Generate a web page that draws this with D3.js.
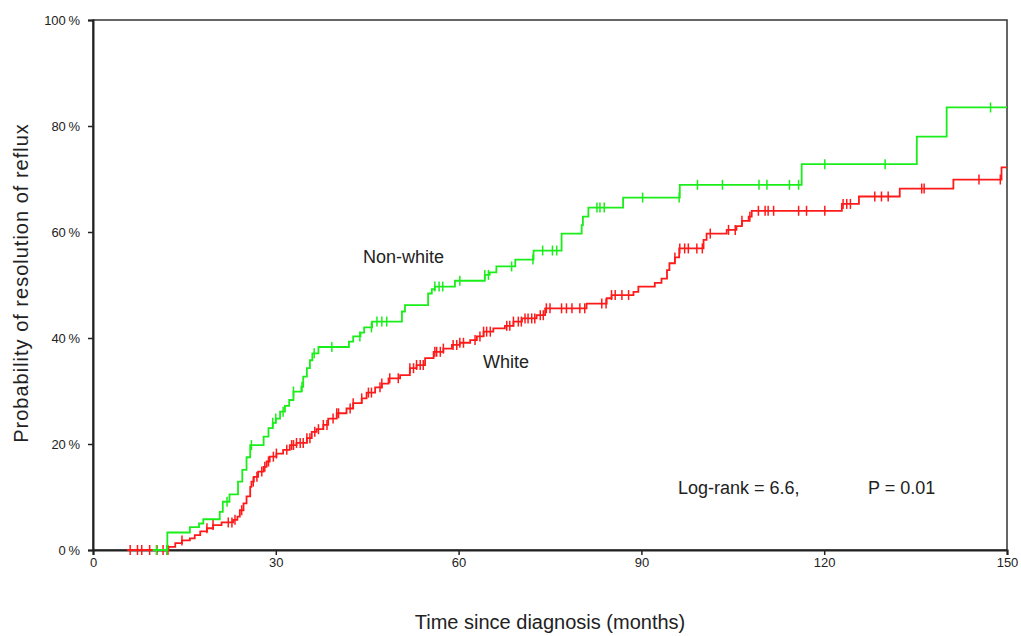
<!DOCTYPE html>
<html>
<head>
<meta charset="utf-8">
<script src="https://cdn.jsdelivr.net/npm/d3@7"></script>
<style>
  body { margin: 0; background: #fff; }
  svg { display: block; }
  text { font-family: Arial, "Liberation Sans", sans-serif; fill: #222; }
  .tick text { font-family: Arial, "Liberation Sans", sans-serif; font-size: 13px; }
</style>
</head>
<body>
<svg id="chart"></svg>
<script>
// step points [month, percent]
const nonWhiteSteps = [
  [9.8,0],[12.2,3.3],[15.9,4.3],[17.4,5.0],[18.1,5.8],[20.8,7.2],[21.3,9.1],[22.4,10.5],[23.8,12.9],
  [24.5,15.1],[25.2,17.5],[25.8,19.8],[28.0,21.4],[28.8,23.0],[29.5,24.0],[30.0,24.8],[30.7,26.1],
  [31.5,27.2],[32.2,28.3],[32.9,29.9],[34.2,30.8],[34.5,32.7],[35.1,34.3],[35.6,35.8],[36.0,37.1],
  [37.0,38.3],[42.0,39.3],[42.7,40.3],[43.9,41.0],[44.5,42.0],[45.8,43.1],[50.7,45.0],[51.2,46.2],
  [55.0,48.4],[55.6,49.2],[56.1,49.7],[59.4,50.8],[64.3,51.9],[65.1,52.4],[66.2,53.5],[69.3,54.8],
  [72.3,56.5],[76.9,59.7],[80.2,61.3],[80.4,62.9],[81.3,64.6],[87.0,66.5],[96.3,68.9],[116.3,72.8],
  [135.2,78.0],[140.1,83.5],[150,83.5]
];
const whiteSteps = [
  [5.6,0],[12.4,0.6],[13.5,1.3],[14.6,1.8],[15.9,2.2],[16.7,2.8],[17.6,3.5],[18.7,4.1],[19.7,4.7],
  [21.1,5.2],[23.0,5.7],[23.7,6.3],[24.1,7.5],[24.7,8.8],[25.2,10.1],[25.8,11.9],[26.0,12.9],
  [26.4,13.8],[27.1,14.8],[28.0,15.7],[28.5,16.7],[29.0,17.6],[30.1,18.2],[31.2,18.9],[32.3,19.8],
  [33.4,20.2],[35.1,21.1],[35.9,22.3],[36.7,22.8],[37.8,23.6],[38.6,24.8],[40.0,25.8],[41.6,26.7],
  [42.7,27.7],[44.1,28.6],[44.9,29.7],[46.3,30.7],[47.4,31.4],[48.5,32.4],[50.4,33.0],[52.0,34.3],
  [53.1,34.9],[54.5,36.2],[55.9,37.4],[57.5,38.0],[58.9,38.7],[60.2,39.1],[61.9,39.6],[63.0,40.3],
  [64.1,41.2],[65.7,41.8],[67.6,42.3],[69.0,43.1],[70.4,43.7],[72.8,44.3],[74.2,45.6],[81.0,46.5],
  [84.3,47.5],[85.1,48.1],[88.7,48.7],[89.5,49.7],[92.2,50.4],[93.3,51.2],[94.2,52.8],[94.6,54.1],
  [95.5,55.2],[96.2,56.9],[100.2,58.5],[100.7,59.7],[104.0,60.4],[105.6,61.1],[106.5,62.1],
  [107.6,62.9],[108.1,64.0],[122.9,65.3],[125.7,66.7],[132.4,68.2],[141.2,69.9],[149.1,72.2],[150,72.2]
];
// censored times (months)
const nonWhiteCensor = [10.4,12.1,22.0,26.0,29.5,30.0,31.2,32.9,34.3,36.3,39.2,43.8,45.7,46.6,47.4,48.2,
  56.1,56.8,57.4,60.2,64.3,64.9,68.7,72.2,73.8,75.4,76.1,82.7,83.2,83.9,90.2,96.2,99.2,103.3,109.3,
  110.6,114.3,115.8,120.1,130.0,147.3];
const whiteCensor = [6.1,7.3,8.0,9.3,10.5,11.5,12.3,14.6,18.7,19.7,22.2,22.8,23.3,24.4,26.3,26.9,27.7,
  28.2,28.8,29.6,30.1,31.8,32.6,32.9,33.4,34.0,34.5,35.1,35.6,36.4,37.0,37.8,38.4,39.4,40.0,40.3,42.2,
  42.7,44.1,45.2,45.7,47.1,47.4,48.7,50.1,52.0,52.6,53.1,53.7,54.2,56.1,56.4,57.0,57.5,59.1,59.7,60.2,
  60.8,62.7,63.5,64.1,64.6,65.2,67.9,68.4,69.0,69.8,70.3,70.9,71.4,72.0,72.5,73.4,73.9,74.4,75.0,76.9,
  77.7,78.6,79.9,80.7,83.5,84.2,85.1,85.7,86.8,87.9,95.5,96.3,97.1,97.7,99.1,100.0,101.3,104.3,105.4,
  106.5,107.8,109.2,110.3,110.8,111.7,115.8,117.1,120.1,123.1,123.7,124.3,128.3,129.4,130.5,136.0,
  136.4,145.4,148.9];
const xTicks = [0,30,60,90,120,150];
const yTicks = [0,20,40,60,80,100];

const width = 1021, height = 636;
const margin = {top: 20, right: 14, bottom: 86, left: 93};

const svg = d3.select("#chart").attr("width", width).attr("height", height);

const x = d3.scaleLinear().domain([0,150]).range([margin.left, width - margin.right]);
const y = d3.scaleLinear().domain([0,100]).range([height - margin.bottom, margin.top]);

// frame
svg.append("rect")
  .attr("x", x(0)).attr("y", y(100))
  .attr("width", x(150) - x(0)).attr("height", y(0) - y(100))
  .attr("fill", "none").attr("stroke", "#333").attr("stroke-width", 1.5);

const xAxis = svg.append("g")
  .attr("transform", "translate(0," + y(0) + ")")
  .call(d3.axisBottom(x).tickValues(xTicks).tickSize(5).tickPadding(3));
const yAxis = svg.append("g")
  .attr("transform", "translate(" + x(0) + ",0)")
  .call(d3.axisLeft(y).tickValues(yTicks).tickSize(5).tickPadding(8).tickFormat(d => d + "\u2009%"));
[xAxis, yAxis].forEach(g => {
  g.select(".domain").attr("stroke", "#222").attr("stroke-width", 2);
  g.selectAll(".tick line").attr("stroke", "#222").attr("stroke-width", 1.5);
  g.selectAll(".tick text").attr("fill", "#222");
});

const line = d3.line().x(d => x(d[0])).y(d => y(d[1])).curve(d3.curveStepAfter);

function stepAt(steps, t) {
  const i = d3.bisector(d => d[0]).right(steps, t) - 1;
  return steps[Math.max(0, i)][1];
}

function drawCurve(steps, censor, color) {
  svg.append("path")
    .datum(steps)
    .attr("fill", "none")
    .attr("stroke", color)
    .attr("stroke-width", 1.8)
    .attr("d", line);
  svg.append("g").selectAll("line")
    .data(censor)
    .join("line")
    .attr("x1", d => x(d)).attr("x2", d => x(d))
    .attr("y1", d => y(stepAt(steps, d)) - 5)
    .attr("y2", d => y(stepAt(steps, d)) + 5)
    .attr("stroke", color)
    .attr("stroke-width", 1.5);
}

drawCurve(whiteSteps, whiteCensor, "#ff1a1a");
drawCurve(nonWhiteSteps, nonWhiteCensor, "#1aee1a");

// labels
svg.append("text").attr("x", 363).attr("y", 263).attr("font-size", 18).text("Non-white");
svg.append("text").attr("x", 483).attr("y", 368).attr("font-size", 18).text("White");
svg.append("text").attr("x", 678).attr("y", 494).attr("font-size", 18).text("Log-rank = 6.6,");
svg.append("text").attr("x", 868).attr("y", 494).attr("font-size", 18).text("P = 0.01");

svg.append("text")
  .attr("x", 550).attr("y", 629)
  .attr("text-anchor", "middle").attr("font-size", 20)
  .text("Time since diagnosis (months)");
svg.append("text")
  .attr("transform", "translate(28,283) rotate(-90)")
  .attr("text-anchor", "middle").attr("font-size", 20)
  .attr("letter-spacing", 1)
  .text("Probability of resolution of reflux");
</script>
</body>
</html>
